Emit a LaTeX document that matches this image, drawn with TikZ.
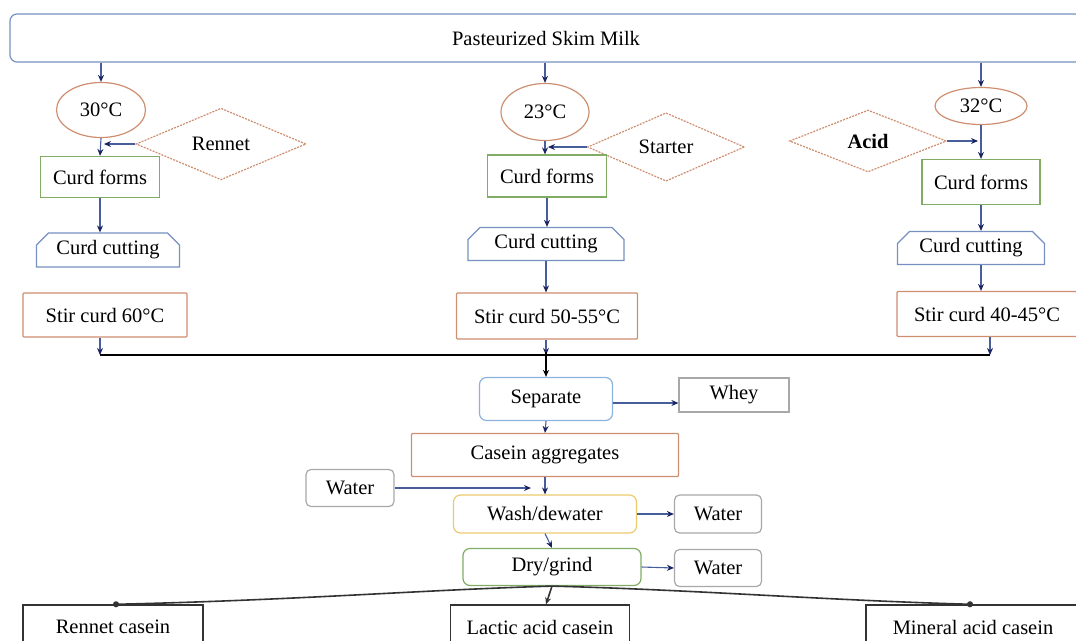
\documentclass[tikz,border=0pt]{standalone}
\usepackage{fontspec}
\setmainfont{Liberation Serif}
\usetikzlibrary{shapes.geometric,shapes.misc,arrows.meta}

\definecolor{edgeblue}{RGB}{118,145,192}
\definecolor{sepblue}{RGB}{140,178,222}
\definecolor{edgeorange}{RGB}{206,142,112}
\definecolor{edgegreen}{RGB}{128,172,102}
\definecolor{edgeyellow}{RGB}{236,202,112}
\definecolor{edgegrey}{RGB}{168,168,168}
\definecolor{linkblue}{RGB}{70,95,155}
\definecolor{tipnavy}{RGB}{25,35,95}

\begin{document}
\begin{tikzpicture}[x=1pt,y=-1pt,
  font=\fontsize{20.5}{23}\selectfont,
  every node/.style={inner sep=0pt, line width=1.2pt},
  plate/.style={draw=edgeblue, rounded corners=7pt},
  heat/.style={draw=edgeorange, ellipse},
  agent/.style={draw=edgeorange, diamond, dash pattern=on 2pt off 1.2pt},
  form/.style={draw=edgegreen},
  cut/.style={draw=edgeblue, chamfered rectangle,
    chamfered rectangle corners={north west,north east},
    chamfered rectangle xsep=6pt, chamfered rectangle ysep=6pt},
  stir/.style={draw=edgeorange, rounded corners=1pt},
  waste/.style={draw=edgegrey, rounded corners=5pt},
  product/.style={draw=black!80, line width=1.3pt},
  arr/.style={draw=linkblue, line width=1.1pt, -{Stealth[length=7pt,width=6pt,color=tipnavy]}},
  yieldline/.style={draw=black!80, line width=1.6pt}]

\useasboundingbox (0,0) rectangle (1076,640);
\clip (0,0) rectangle (1076,640);

% top
\node [plate, minimum width=1072, minimum height=48] (milk) at (546,38) {Pasteurized Skim Milk};

% rennet column
\node [heat, minimum width=89, minimum height=55] (tA) at (101,110) {30°C};
\node [agent, minimum width=170, minimum height=63] (rennet) at (221,144) {Rennet};
\node [form, minimum width=119, minimum height=41] (formA) at (100,177) {Curd forms};
\node [cut, minimum width=143, minimum height=34] (cutA) at (108,250) {Curd cutting};
\node [stir, minimum width=164, minimum height=44] (stirA) at (105,315) {Stir curd 60°C};

% lactic column
\node [heat, minimum width=88, minimum height=57] (tB) at (545,112) {23°C};
\node [agent, minimum width=157, minimum height=64] (starter) at (666,147) {Starter};
\node [form, minimum width=119, minimum height=42] (formB) at (547,176) {Curd forms};
\node [cut, minimum width=156, minimum height=33] (cutB) at (546,244) {Curd cutting};
\node [stir, minimum width=181, minimum height=46] (stirB) at (547,316) {Stir curd 50-55°C};

% acid column
\node [heat, minimum width=92, minimum height=37] (tC) at (981,106) {32°C};
\node [agent, minimum width=157, minimum height=62] (acid) at (868,141) {\bfseries Acid};
\node [form, minimum width=118, minimum height=45] (formC) at (981,182) {Curd forms};
\node [cut, minimum width=147, minimum height=33] (cutC) at (971,248) {Curd cutting};
\node [stir, minimum width=180, minimum height=45] (stirC) at (987,314) {Stir curd 40-45°C};

\coordinate (jA) at (100,355);
\coordinate (jB) at (546,355);
\coordinate (jC) at (990,355);

% common steps
\node [plate, draw=sepblue, minimum width=133, minimum height=43] (separate) at (546,399) {Separate};
\node [draw=edgegrey, minimum width=110, minimum height=34] (whey) at (734,395) {Whey};
\node [stir, minimum width=267, minimum height=43] (casein) at (545,455) {Casein aggregates};
\node [waste, minimum width=88, minimum height=37] (waterL) at (350,488) {Water};
\node [plate, draw=edgeyellow, minimum width=183, minimum height=38] (wash) at (545,514) {Wash/dewater};
\node [waste, minimum width=87, minimum height=38] (waterA) at (718,514) {Water};
\node [plate, draw=edgegreen, minimum width=178, minimum height=37] (dry) at (552,567) {Dry/grind};
\node [waste, minimum width=87, minimum height=37] (waterB) at (718,568) {Water};

\node [product, minimum width=180, minimum height=44] (rennetC) at (113,627) {Rennet casein};
\node [product, minimum width=179, minimum height=44] (lactic) at (540,627) {Lactic acid casein};
\node [product, minimum width=214, minimum height=44] (mineral) at (973,627) {Mineral acid casein};

% links
\draw [arr] (milk.south -| tA) -- (tA.north);
\draw [arr] (tA.south) -- (formA.north);
\draw [arr] (rennet.west) -- ([xshift=3pt]tA.south |- rennet.west);
\draw [arr] (formA.south) -- (formA.south |- cutA.north);
\draw [arr] (jA |- stirA.south) -- (jA);

\draw [arr] (milk.south -| tB) -- (tB.north);
\draw [arr] (tB.south) -- (tB.south |- formB.north);
\draw [arr] (starter.west) -- ([xshift=3pt]tB.south |- starter.west);
\draw [arr] (formB.south) -- (formB.south |- cutB.north);
\draw [arr] (cutB.south) -- (cutB.south |- stirB.north);
\draw [arr] (stirB.south -| jB) -- (jB);

\draw [arr] (milk.south -| tC) -- (tC.north);
\draw [arr] (tC.south) -- (formC.north);
\draw [arr] (acid.east) -- ([xshift=-3pt]tC.south |- acid.east);
\draw [arr] (formC.south -| tC) -- (cutC.north -| tC);
\draw [arr] (cutC.south -| tC) -- (stirC.north -| tC);
\draw [arr] (stirC.south -| jC) -- (jC);

\draw [draw=black, line width=2.2pt] (jA) -- (jC);

\draw [arr, draw=black, -{Stealth[length=7pt,width=6pt,color=black]}] ([yshift=3pt]jB) -- (separate.north);
\draw [arr] ([yshift=-4pt]separate.east) -- ([yshift=-4pt]separate.east -| whey.west);
\draw [arr] (separate.south) -- (casein.north);
\draw [arr] (casein.south) -- (casein.south |- wash.north);
\draw [arr] (waterL.east) -- ([xshift=-14pt]wash.north |- waterL.east);
\draw [arr] (wash.east) -- (waterA.west);
\draw [arr] (wash.south) -- (dry.north);
\draw [arr] (dry.east) -- (waterB.west);

\draw [yieldline, -{Circle[length=6pt]}] (dry.south) .. controls (420,590) and (300,600) .. (rennetC.north);
\draw [yieldline, -{Stealth[length=7pt,width=6pt]}] (dry.south) -- ([xshift=6pt]lactic.north);
\draw [yieldline, -{Circle[length=6pt]}] (dry.south) .. controls (700,590) and (820,600) .. (mineral.north);
\end{tikzpicture}
\end{document}
